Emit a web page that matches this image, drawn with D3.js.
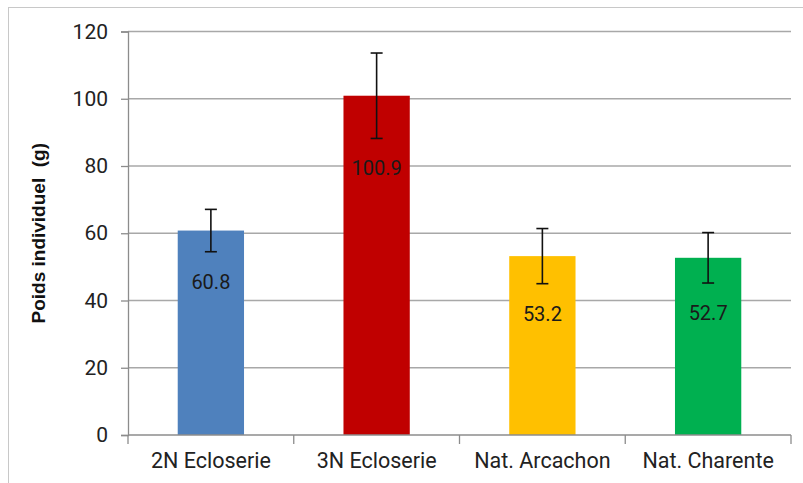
<!DOCTYPE html>
<html>
<head>
<meta charset="utf-8">
<script src="https://d3js.org/d3.v7.min.js"></script>
<style>
  body { margin: 0; background: #fff; }
  text { font-family: Roboto, Arial, sans-serif; }
</style>
</head>
<body>
<script>
var categories = ['2N Ecloserie', '3N Ecloserie', 'Nat. Arcachon', 'Nat. Charente'];
var values = [60.8, 100.9, 53.2, 52.7];
var errors = [6.3, 12.7, 8.2, 7.5];
var colors = ['#4f81bd', '#c00000', '#ffc000', '#00b050'];
var yTicks = [0, 20, 40, 60, 80, 100, 120];

var width = 803, height = 483;
var margin = {left: 128, right: 12, top: 31.5, bottom: 48};

var svg = d3.select('body').append('svg')
    .attr('width', width)
    .attr('height', height);

// outer frame
svg.append('rect')
    .attr('x', 8.5).attr('y', 7.5)
    .attr('width', 820).attr('height', 500)
    .attr('fill', 'none')
    .attr('stroke', '#c8c8c8');

var x = d3.scaleBand()
    .domain(categories)
    .range([margin.left, width - margin.right])
    .paddingInner(0.6)
    .paddingOuter(0.3);

var y = d3.scaleLinear()
    .domain([0, 120])
    .range([height - margin.bottom, margin.top]);

// gridlines
svg.append('g')
    .selectAll('line')
    .data(yTicks.slice(1))
    .enter().append('line')
    .attr('x1', margin.left).attr('x2', width - margin.right)
    .attr('y1', d => y(d)).attr('y2', d => y(d))
    .attr('stroke', '#a8a8a8')
    .attr('stroke-width', 1.3);

// y axis
var yAxis = svg.append('g')
    .attr('transform', 'translate(' + margin.left + ',0)')
    .call(d3.axisLeft(y).tickValues(yTicks).tickSize(7).tickPadding(13));
yAxis.selectAll('path, line').attr('stroke', '#8c8c8c').attr('stroke-width', 1.3);
yAxis.selectAll('text')
    .attr('font-size', 21)
    .attr('fill', '#222')
    .style('font-family', 'Roboto, Arial, sans-serif');

// bars
svg.append('g')
    .selectAll('rect')
    .data(values)
    .enter().append('rect')
    .attr('x', (d, i) => x(categories[i]))
    .attr('width', x.bandwidth())
    .attr('y', d => y(d))
    .attr('height', d => y(0) - y(d))
    .attr('fill', (d, i) => colors[i]);

// x axis
var xAxis = svg.append('g')
    .attr('transform', 'translate(0,' + y(0) + ')')
    .call(d3.axisBottom(x).tickSize(0).tickPadding(18));
xAxis.select('.domain').remove();
xAxis.selectAll('text')
    .attr('font-size', 21.5)
    .attr('fill', '#222')
    .style('font-family', 'Roboto, Arial, sans-serif');

var step = x.step();
var edges = [margin.left].concat(categories.map(c => x(c) + x.bandwidth() / 2 + step / 2));
var xg = svg.append('g');
xg.append('line')
    .attr('x1', margin.left).attr('x2', width - margin.right)
    .attr('y1', y(0)).attr('y2', y(0))
    .attr('stroke', '#8c8c8c').attr('stroke-width', 1.3);
xg.selectAll('.tk')
    .data(edges)
    .enter().append('line')
    .attr('x1', d => d).attr('x2', d => d)
    .attr('y1', y(0)).attr('y2', y(0) + 9)
    .attr('stroke', '#8c8c8c').attr('stroke-width', 1.3);

// error bars
var eb = svg.append('g').attr('stroke', '#111').attr('stroke-width', 1.6);
values.forEach(function(v, i) {
    var cx = x(categories[i]) + x.bandwidth() / 2;
    eb.append('line').attr('x1', cx).attr('x2', cx)
        .attr('y1', y(v + errors[i])).attr('y2', y(v - errors[i]));
    eb.append('line').attr('x1', cx - 6).attr('x2', cx + 6)
        .attr('y1', y(v + errors[i])).attr('y2', y(v + errors[i]));
    eb.append('line').attr('x1', cx - 6).attr('x2', cx + 6)
        .attr('y1', y(v - errors[i])).attr('y2', y(v - errors[i]));
});

// value labels
svg.append('g')
    .selectAll('text')
    .data(values)
    .enter().append('text')
    .attr('x', (d, i) => x(categories[i]) + x.bandwidth() / 2)
    .attr('y', (d, i) => y(d - errors[i]) + 30)
    .attr('dy', '0.35em')
    .attr('text-anchor', 'middle')
    .attr('font-size', 20)
    .attr('fill', '#1a1a1a')
    .text(d => d.toFixed(1));

// y title
svg.append('text')
    .attr('transform', 'translate(45,' + (y(60)) + ') rotate(-90)')
    .attr('text-anchor', 'middle')
    .attr('font-size', 19)
    .attr('font-weight', 'bold')
    .attr('fill', '#111')
    .style('white-space', 'pre')
    .style('font-family', 'Arial, "Liberation Sans", sans-serif')
    .text('Poids individuel  (g)');
</script>
</body>
</html>
